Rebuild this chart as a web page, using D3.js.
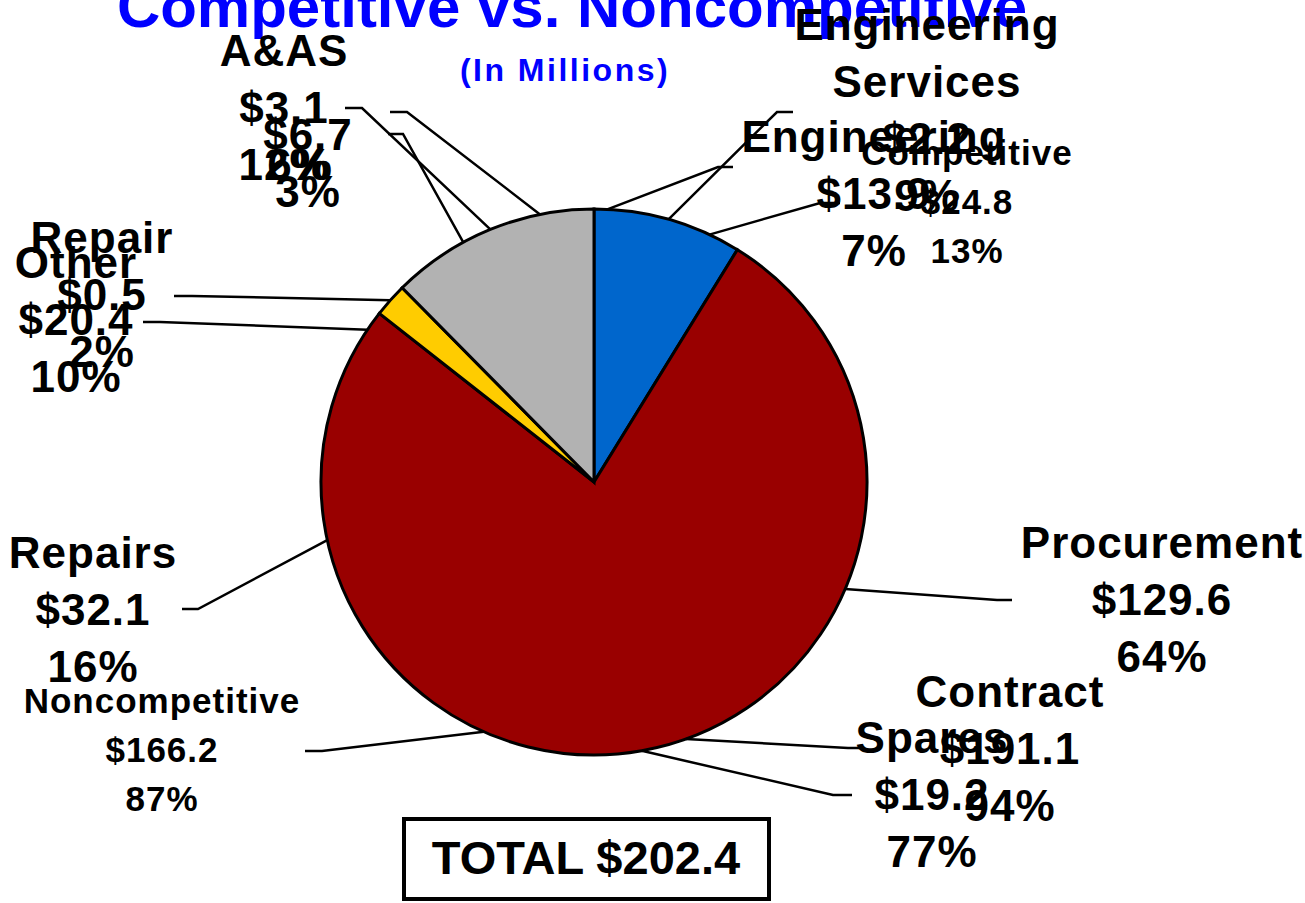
<!DOCTYPE html>
<html lang="en">
<head>
    <meta charset="UTF-8">
    <title>Competitive vs. Noncompetitive</title>
    <style>
        body { margin: 0; background: #fff; }
        svg { display: block; }
        text { font-family: "Liberation Sans", Arial, sans-serif; font-weight: bold; }
        .slice { stroke: #000; stroke-width: 3px; }
        .leader { fill: none; stroke: #000; stroke-width: 2.5px; }
    </style>
</head>
<body>
    <div id="chart"></div>

    <script src="https://d3js.org/d3.v7.min.js"></script>
    <script>
        // Pie that is drawn: competitive breakdown
        const sliceNames = ["Engineering Services", "Contract Spares", "Repair", "A&AS"];
        const sliceValues = [2.2, 19.2, 0.5, 3.1];
        const slicePercents = [9, 77, 2, 12];
        const sliceColors = ["#0066CC", "#990000", "#FFCC00", "#B2B2B2"];

        // Labels left over from the other breakdowns
        const typeNames = ["Procurement", "Repairs", "Other", "Engineering", "A&AS"];
        const typeValues = [129.6, 32.1, 20.4, 13.9, 6.7];
        const typePercents = [64, 16, 10, 7, 3];

        const compNames = ["Competitive", "Noncompetitive"];
        const compValues = [24.8, 166.2];
        const compPercents = [13, 87];

        const contractNames = ["Contract"];
        const contractValues = [191.1];
        const contractPercents = [94, 6];

        const totalValue = 202.4;
        const titleText = "Competitive vs. Noncompetitive";
        const subtitleText = "(In Millions)";

        document.addEventListener("DOMContentLoaded", function() {
            const width = 1305, height = 903;
            const cx = 594, cy = 482, radius = 273;

            const svg = d3.select("#chart").append("svg")
                .attr("width", width)
                .attr("height", height);

            const money = v => "$" + v.toFixed(1);
            const pct = p => p + "%";

            // title (runs off the top of the page)
            svg.append("text")
                .attr("x", 572).attr("y", 27)
                .attr("text-anchor", "middle")
                .attr("fill", "#0000FF")
                .style("font-size", "60px")
                .text(titleText);

            svg.append("text")
                .attr("x", 565).attr("y", 81)
                .attr("text-anchor", "middle")
                .attr("fill", "#0000FF")
                .style("font-size", "32px")
                .style("letter-spacing", "2.5px")
                .text(subtitleText);

            // pie
            const pie = d3.pie().sort(null).value(d => d);
            const arcs = pie(sliceValues);
            const arc = d3.arc().innerRadius(0).outerRadius(radius);

            const g = svg.append("g")
                .attr("transform", `translate(${cx},${cy})`);

            g.selectAll("path.slice")
                .data(arcs)
                .join("path")
                .attr("class", "slice")
                .attr("fill", (d, i) => sliceColors[i])
                .attr("d", arc);

            const midAngle = i => (arcs[i].startAngle + arcs[i].endAngle) / 2;
            const deg = a => a * Math.PI / 180;

            // label blocks: text lines, centre x, first baseline, size
            const big = { size: 44, spacing: 1, lh: 57 };
            const small = { size: 35, spacing: 1, lh: 49 };

            const labels = [
                { lines: [...sliceNames[0].split(" "), money(sliceValues[0]), pct(slicePercents[0])],
                  x: 927, y: 40, f: big, angle: midAngle(0), elbow: [777, 112], end: 793 },
                { lines: [typeNames[3], money(typeValues[3]), pct(typePercents[3])],
                  x: 874, y: 152, f: big, angle: deg(2.8), elbow: [718, 167], end: 733 },
                { lines: [compNames[0], money(compValues[0]), pct(compPercents[0])],
                  x: 967, y: 165, f: small, angle: deg(25), elbow: [820, 203], end: 840 },
                { lines: [sliceNames[3], money(sliceValues[3]), pct(slicePercents[3])],
                  x: 284, y: 66, f: big, angle: midAngle(3), elbow: [362, 108], end: 345 },
                { lines: [money(typeValues[4]), pct(typePercents[4])],
                  x: 308, y: 150, f: big, angle: deg(348.6), elbow: [407, 112], end: 390 },
                { lines: [pct(contractPercents[1])],
                  x: 300, y: 180, f: big, angle: deg(331.4), elbow: [403, 134], end: 388 },
                { lines: [sliceNames[2], money(sliceValues[2]), pct(slicePercents[2])],
                  x: 102, y: 253, f: big, angle: midAngle(2), elbow: [192, 296], end: 174 },
                { lines: [typeNames[2], money(typeValues[2]), pct(typePercents[2])],
                  x: 76, y: 278, f: big, angle: deg(303.9), elbow: [160, 322], end: 143 },
                { lines: [typeNames[1], money(typeValues[1]), pct(typePercents[1])],
                  x: 93, y: 568, f: big, angle: deg(257.7), elbow: [198, 609], end: 182 },
                { lines: [compNames[1], money(compValues[1]), pct(compPercents[1])],
                  x: 162, y: 713, f: small, angle: deg(203.8), elbow: [322, 751], end: 305 },
                { lines: [typeNames[0], money(typeValues[0]), pct(typePercents[0])],
                  x: 1162, y: 558, f: big, angle: deg(113.1), elbow: [997, 600], end: 1012 },
                { lines: [contractNames[0], money(contractValues[0]), pct(contractPercents[0])],
                  x: 1010, y: 707, f: big, angle: deg(160.3), elbow: [848, 748], end: 864 },
                { lines: [sliceNames[1].split(" ")[1], money(sliceValues[1]), pct(slicePercents[1])],
                  x: 932, y: 753, f: big, angle: midAngle(1), elbow: [833, 795], end: 852 }
            ];

            // leader lines: pie edge -> elbow -> short horizontal stub
            const line = d3.line();
            svg.selectAll("path.leader")
                .data(labels)
                .join("path")
                .attr("class", "leader")
                .attr("d", d => {
                    const p = d3.pointRadial(d.angle, radius);
                    return line([[cx + p[0], cy + p[1]], d.elbow, [d.end, d.elbow[1]]]);
                });

            // label text
            const blocks = svg.selectAll("g.label")
                .data(labels)
                .join("g")
                .attr("class", "label");

            blocks.each(function(d) {
                d3.select(this).selectAll("text")
                    .data(d.lines)
                    .join("text")
                    .attr("x", d.x)
                    .attr("y", (t, i) => d.y + i * d.f.lh)
                    .attr("text-anchor", "middle")
                    .attr("fill", "#000")
                    .style("font-size", d.f.size + "px")
                    .style("letter-spacing", d.f.spacing + "px")
                    .text(t => t);
            });

            // total box
            svg.append("rect")
                .attr("x", 404).attr("y", 819)
                .attr("width", 365).attr("height", 80)
                .attr("fill", "#fff")
                .attr("stroke", "#000")
                .attr("stroke-width", 4);

            svg.append("text")
                .attr("x", 586).attr("y", 874)
                .attr("text-anchor", "middle")
                .style("font-size", "47px")
                .text("TOTAL " + money(totalValue));
        });
    </script>
</body>
</html>
